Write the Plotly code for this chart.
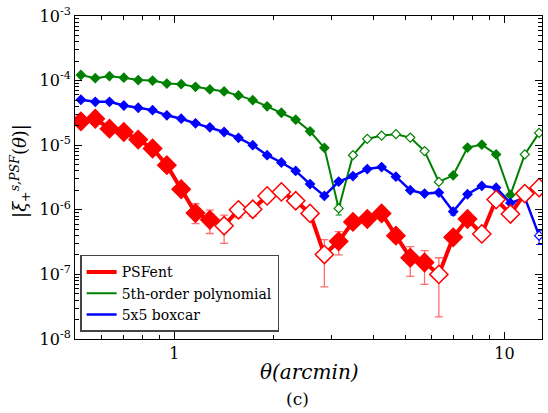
import plotly.graph_objects as go
import math

theta = [0.521, 0.576, 0.636, 0.703, 0.777, 0.859, 0.949, 1.049, 1.159, 1.281, 1.415,
         1.564, 1.728, 1.910, 2.110, 2.332, 2.577, 2.848, 3.147, 3.477, 3.842, 4.246,
         4.692, 5.185, 5.729, 6.331, 6.996, 7.731, 8.543, 9.441, 10.43, 11.53, 12.74]

psfent = [2.34e-5, 2.57e-5, 1.80e-5, 1.60e-5, 1.22e-5, 8.9e-6, 4.9e-6, 2.08e-6, 8.9e-7,
          7.0e-7, 5.67e-7, 1.0e-6, 1.02e-6, 1.64e-6, 1.89e-6, 1.38e-6, 8.8e-7, 2.03e-7,
          3.25e-7, 6.5e-7, 7.2e-7, 8.8e-7, 3.98e-7, 1.81e-7, 1.53e-7, 1.0e-7, 3.75e-7,
          7.2e-7, 4.23e-7, 1.44e-6, 8.6e-7, 1.78e-6, 2.2e-6]
psfent_hi = [2.5e-5, 2.75e-5, 1.93e-5, 1.72e-5, 1.31e-5, 9.6e-6, 5.3e-6, 2.3e-6, 1.24e-6,
             9.9e-7, 8.3e-7, 1.19e-6, 1.24e-6, 1.8e-6, 2.05e-6, 1.52e-6, 9.8e-7, 3.45e-7,
             4.6e-7, 7.3e-7, 8.0e-7, 9.7e-7, 4.5e-7, 2.7e-7, 2.34e-7, 1.81e-7, 4.2e-7,
             7.9e-7, 4.6e-7, 1.55e-6, 9.4e-7, 1.92e-6, 2.4e-6]
psfent_lo = [2.2e-5, 2.4e-5, 1.68e-5, 1.5e-5, 1.14e-5, 8.3e-6, 4.5e-6, 1.85e-6, 6.1e-7,
             4.3e-7, 3.03e-7, 7.5e-7, 7.9e-7, 1.48e-6, 1.72e-6, 1.24e-6, 7.8e-7, 6.4e-8,
             2.0e-7, 5.7e-7, 6.4e-7, 7.9e-7, 3.2e-7, 9.3e-8, 7.0e-8, 2.2e-8, 3.3e-7,
             6.5e-7, 3.8e-7, 1.32e-6, 7.8e-7, 1.64e-6, 2.0e-6]
psfent_open = [10, 11, 12, 13, 14, 15, 16, 17, 25, 28, 29, 30, 31, 32]

poly5 = [1.22e-4, 1.09e-4, 1.17e-4, 1.11e-4, 1.02e-4, 1.0e-4, 9.0e-5, 8.8e-5, 8.0e-5,
         7.3e-5, 6.8e-5, 5.9e-5, 4.98e-5, 4.0e-5, 3.18e-5, 2.48e-5, 1.64e-5, 9.1e-6,
         1.05e-6, 7.0e-6, 1.25e-5, 1.41e-5, 1.48e-5, 1.31e-5, 8.1e-6, 2.70e-6, 3.42e-6,
         9.2e-6, 1.02e-5, 7.2e-6, 1.70e-6, 7.2e-6, 1.55e-5]
poly5_err = {18: (1.22e-6, 8.3e-7)}
poly5_open = [18, 19, 20, 21, 22, 23, 24, 25, 31, 32]

boxcar = [5.05e-5, 4.7e-5, 4.7e-5, 4.12e-5, 3.8e-5, 3.49e-5, 2.9e-5, 2.57e-5, 2.18e-5,
          1.89e-5, 1.60e-5, 1.30e-5, 1.0e-5, 7.0e-6, 5.4e-6, 4.0e-6, 2.5e-6, 1.64e-6,
          2.73e-6, 3.33e-6, 4.27e-6, 4.59e-6, 3.26e-6, 2.01e-6, 1.78e-6, 1.85e-6, 9.4e-7,
          1.74e-6, 2.34e-6, 2.2e-6, 1.27e-6, 1.55e-6, 3.98e-7]
boxcar_err = {26: (1.05e-6, 8.3e-7), 32: (4.75e-7, 2.9e-7)}
boxcar_open = [32]

names = ["PSFent", "5th-order polynomial", "5x5 boxcar"]
colors = ["#ff0000", "#008000", "#0000ff"]

ytick_vals = [1e-8, 1e-7, 1e-6, 1e-5, 1e-4, 1e-3]
ytick_text = ["10<sup>-8</sup>", "10<sup>-7</sup>", "10<sup>-6</sup>",
              "10<sup>-5</sup>", "10<sup>-4</sup>", "10<sup>-3</sup>"]
xtick_vals = [1, 10]
xtick_text = ["1", "10"]

FONT = "DejaVu Serif"


def errs_from_dict(vals, d):
    up, dn = [], []
    for i, v in enumerate(vals):
        if i in d:
            up.append(d[i][0] - v)
            dn.append(v - d[i][1])
        else:
            up.append(0)
            dn.append(0)
    return up, dn


def fills(vals, open_idx, color):
    return ["white" if i in open_idx else color for i in range(len(vals))]


fig = go.Figure()

# green
up, dn = errs_from_dict(poly5, poly5_err)
fig.add_trace(go.Scatter(
    x=theta, y=poly5, mode="lines+markers", showlegend=False,
    line=dict(color=colors[1], width=2),
    marker=dict(symbol="diamond", size=7, color=fills(poly5, poly5_open, colors[1]),
                line=dict(color=colors[1], width=1.2)),
    error_y=dict(type="data", symmetric=False, array=up, arrayminus=dn,
                 color=colors[1], thickness=1, width=3)))

# blue
up, dn = errs_from_dict(boxcar, boxcar_err)
fig.add_trace(go.Scatter(
    x=theta, y=boxcar, mode="lines+markers", showlegend=False,
    line=dict(color=colors[2], width=2.5),
    marker=dict(symbol="diamond", size=7, color=fills(boxcar, boxcar_open, colors[2]),
                line=dict(color=colors[2], width=1.2)),
    error_y=dict(type="data", symmetric=False, array=up, arrayminus=dn,
                 color=colors[2], thickness=1, width=3)))

# red
up = [h - v for h, v in zip(psfent_hi, psfent)]
dn = [v - l for l, v in zip(psfent_lo, psfent)]
fig.add_trace(go.Scatter(
    x=theta, y=psfent, mode="lines+markers", showlegend=False,
    line=dict(color=colors[0], width=4),
    marker=dict(symbol="diamond", size=14, color=fills(psfent, psfent_open, colors[0]),
                line=dict(color=colors[0], width=1.5)),
    error_y=dict(type="data", symmetric=False, array=up, arrayminus=dn,
                 color="rgba(255,60,60,0.75)", thickness=1.3, width=4)))

# legend entries
for name, col, w in zip(names, colors, [4, 2, 2.5]):
    fig.add_trace(go.Scatter(x=[None], y=[None], mode="lines", name=name,
                             line=dict(color=col, width=w)))

axis_common = dict(showline=True, linecolor="black", linewidth=1, mirror="allticks",
                   ticks="inside", ticklen=7, tickcolor="black", showgrid=False,
                   zeroline=False, tickfont=dict(family=FONT, size=16, color="black"))

fig.update_xaxes(type="log", range=[math.log10(0.5), math.log10(13)],
                 tickvals=xtick_vals, ticktext=xtick_text,
                 minor=dict(ticks="inside", ticklen=4, tickcolor="black",
                            tickvals=[0.6, 0.7, 0.8, 0.9, 2, 3, 4, 5, 6, 7, 8, 9]),
                 **axis_common)
fig.update_yaxes(type="log", range=[-8, -3],
                 tickvals=ytick_vals, ticktext=ytick_text,
                 minor=dict(ticks="inside", ticklen=4, tickcolor="black",
                            tickvals=[m * 10 ** e for e in range(-8, -3) for m in range(2, 10)]),
                 **axis_common)

fig.update_layout(
    width=548, height=413,
    margin=dict(l=75, r=5, t=14, b=74),
    paper_bgcolor="white", plot_bgcolor="white",
    font=dict(family=FONT, color="black"),
    legend=dict(x=0.011, y=0.022, xanchor="left", yanchor="bottom",
                bgcolor="white", bordercolor="#444", borderwidth=1.5,
                font=dict(family=FONT, size=14, color="black"),
                tracegroupgap=0, itemwidth=30),
    annotations=[
        dict(text="<i>θ(arcmin)</i>", xref="paper", yref="paper", x=0.503, y=-0.1015,
             xanchor="center", yanchor="middle", showarrow=False,
             font=dict(family=FONT, size=20)),
        dict(text="(c)", xref="paper", yref="paper", x=0.476, y=-0.1845,
             xanchor="center", yanchor="middle", showarrow=False,
             font=dict(family=FONT, size=17)),
        dict(text="|<i>ξ</i><sub>+</sub><sup><i>s,PSF</i></sup>(<i>θ</i>)|",
             xref="paper", yref="paper", x=-0.118, y=0.52, textangle=-90,
             xanchor="center", yanchor="middle", showarrow=False,
             font=dict(family=FONT, size=18)),
    ],
)

fig.write_html("out.html")
